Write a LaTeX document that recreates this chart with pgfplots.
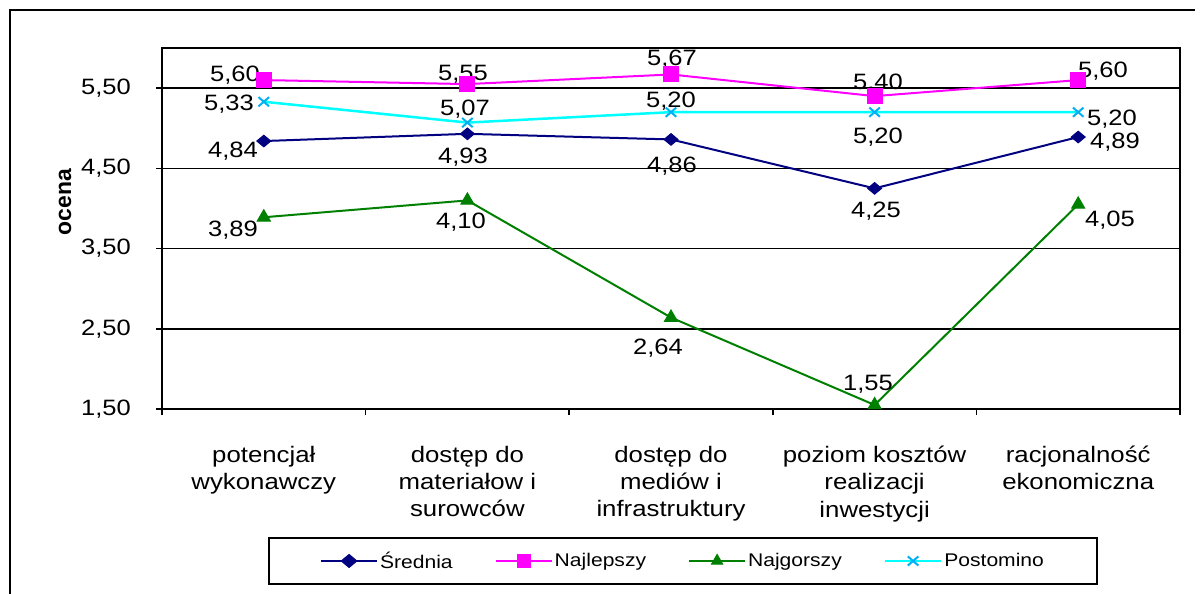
\documentclass[border=0pt]{standalone}
\usepackage{fontspec}
\setmainfont{Liberation Sans}[FakeStretch=1.15]
\newfontfamily\labfont{Liberation Sans}[BoldFont={Liberation Sans Bold}]
\usepackage{pgfplots}
\pgfplotsset{compat=1.18}

\definecolor{srednia}{RGB}{0,0,128}
\definecolor{najl}{RGB}{255,0,255}
\definecolor{najg}{RGB}{0,128,0}
\definecolor{postl}{RGB}{0,255,255}
\definecolor{postm}{RGB}{0,176,240}

\newcommand{\lab}[5]{\node[font=\fontsize{22.3}{26}\selectfont, inner sep=0pt, text height=16bp, text depth=0bp, anchor=center, xshift=#3bp, yshift=#4bp] at (axis cs:#1,#2) {#5};}

\begin{document}
\begin{tikzpicture}[x=1bp,y=1bp]
\useasboundingbox (0,0) rectangle (1200,594);
\draw[line width=2bp] (10,0) -- (10,584) -- (1195,584);
\begin{axis}[
  at={(162bp,185bp)}, anchor=south west,
  scale only axis, width=1018bp, height=361bp,
  xmin=-0.5, xmax=4.5, ymin=1.5, ymax=6,
  clip=false,
  xtick={-0.5,0.5,1.5,2.5,3.5,4.5},
  x tick label as interval,
  xticklabels={{potencjał\\wykonawczy},{dostęp do\\materiałow i\\surowców},{dostęp do\\mediów i\\infrastruktury},{poziom kosztów\\realizacji\\inwestycji},{racjonalność\\ekonomiczna},{}},
  xticklabel style={anchor=north, inner sep=0pt, yshift=-31bp, align=center, font=\fontsize{22.5}{27.3}\selectfont},
  ytick={1.5,2.5,3.5,4.5,5.5},
  /pgf/number format/assume math mode=true,
  yticklabel style={/pgf/number format/fixed, /pgf/number format/fixed zerofill, /pgf/number format/precision=2, /pgf/number format/use comma, anchor=east, inner sep=0pt, xshift=-25bp, font=\fontsize{22.3}{26}\selectfont},
  xtick pos=bottom, ytick pos=left,
  tick align=outside, major tick length=6bp,
  every tick/.style={black, line width=1.5bp},
  axis line style={black, line width=1.5bp},
  ymajorgrids, grid style={black, line width=1.6bp},
  legend columns=4,
  legend style={at={(axis description cs:0.5118,-0.421)}, anchor=center, draw=black, line width=1.5bp, inner xsep=51bp, inner ysep=12bp, font=\fontsize{18.4}{22}\selectfont, /tikz/every even column/.append style={column sep=40bp}, nodes={inner sep=2bp}},
  legend image code/.code={\draw[mark repeat=2,mark phase=2,#1,mark size=6.5bp] plot coordinates {(0bp,0bp) (28bp,0bp) (56bp,0bp)};},
]
\addplot[srednia, line width=2bp, mark=diamond*, mark size=5.8bp, mark options={solid, fill=srednia, line width=1bp, xscale=1.6}]
  coordinates {(0,4.84) (1,4.93) (2,4.86) (3,4.25) (4,4.89)};
\addlegendentry{Średnia}
\addplot[najl, line width=2bp, mark=square*, mark size=7.5bp, mark options={solid, fill=najl, line width=1bp}]
  coordinates {(0,5.60) (1,5.55) (2,5.67) (3,5.40) (4,5.60)};
\addlegendentry{Najlepszy}
\addplot[najg, line width=2bp, mark=triangle*, mark size=7.5bp, mark options={solid, fill=najg, line width=1bp}]
  coordinates {(0,3.89) (1,4.10) (2,2.64) (3,1.55) (4,4.05)};
\addlegendentry{Najgorszy}
\addplot[postl, line width=2.5bp, mark=x, mark size=6.5bp, mark options={solid, draw=postm, line width=2bp, xscale=1.15}]
  coordinates {(0,5.33) (1,5.07) (2,5.20) (3,5.20) (4,5.20)};
\addlegendentry{Postomino}

\node[rotate=90, anchor=center, inner sep=0pt] at (axis description cs:-0.0953,0.573) {\labfont\fontsize{23}{26}\selectfont\bfseries ocena};

\lab{0}{4.84}{-30.8}{-8.4}{4,84}
\lab{1}{4.93}{-4.4}{-21.2}{4,93}
\lab{2}{4.86}{1}{-25.5}{4,86}
\lab{3}{4.25}{1.4}{-21.6}{4,25}
\lab{4}{4.89}{36.8}{-3.9}{4,89}
\lab{0}{5.60}{-28.8}{6.6}{5,60}
\lab{1}{5.55}{-4.4}{11.1}{5,55}
\lab{2}{5.67}{1}{16.5}{5,67}
\lab{3}{5.40}{3.4}{15.1}{5,40}
\lab{4}{5.60}{24.8}{10.1}{5,60}
\lab{0}{3.89}{-30.8}{-11.7}{3,89}
\lab{1}{4.10}{-6.4}{-19.6}{4,10}
\lab{2}{2.64}{-13}{-28.5}{2,64}
\lab{3}{1.55}{-6.6}{22}{1,55}
\lab{4}{4.05}{31.8}{-13.6}{4,05}
\lab{0}{5.33}{-34.8}{-0.7}{5,33}
\lab{1}{5.07}{-2.4}{14.6}{5,07}
\lab{2}{5.20}{0}{12.2}{5,20}
\lab{3}{5.20}{3.4}{-23.8}{5,20}
\lab{4}{5.20}{33.8}{-5.8}{5,20}
\end{axis}
\end{tikzpicture}
\end{document}
